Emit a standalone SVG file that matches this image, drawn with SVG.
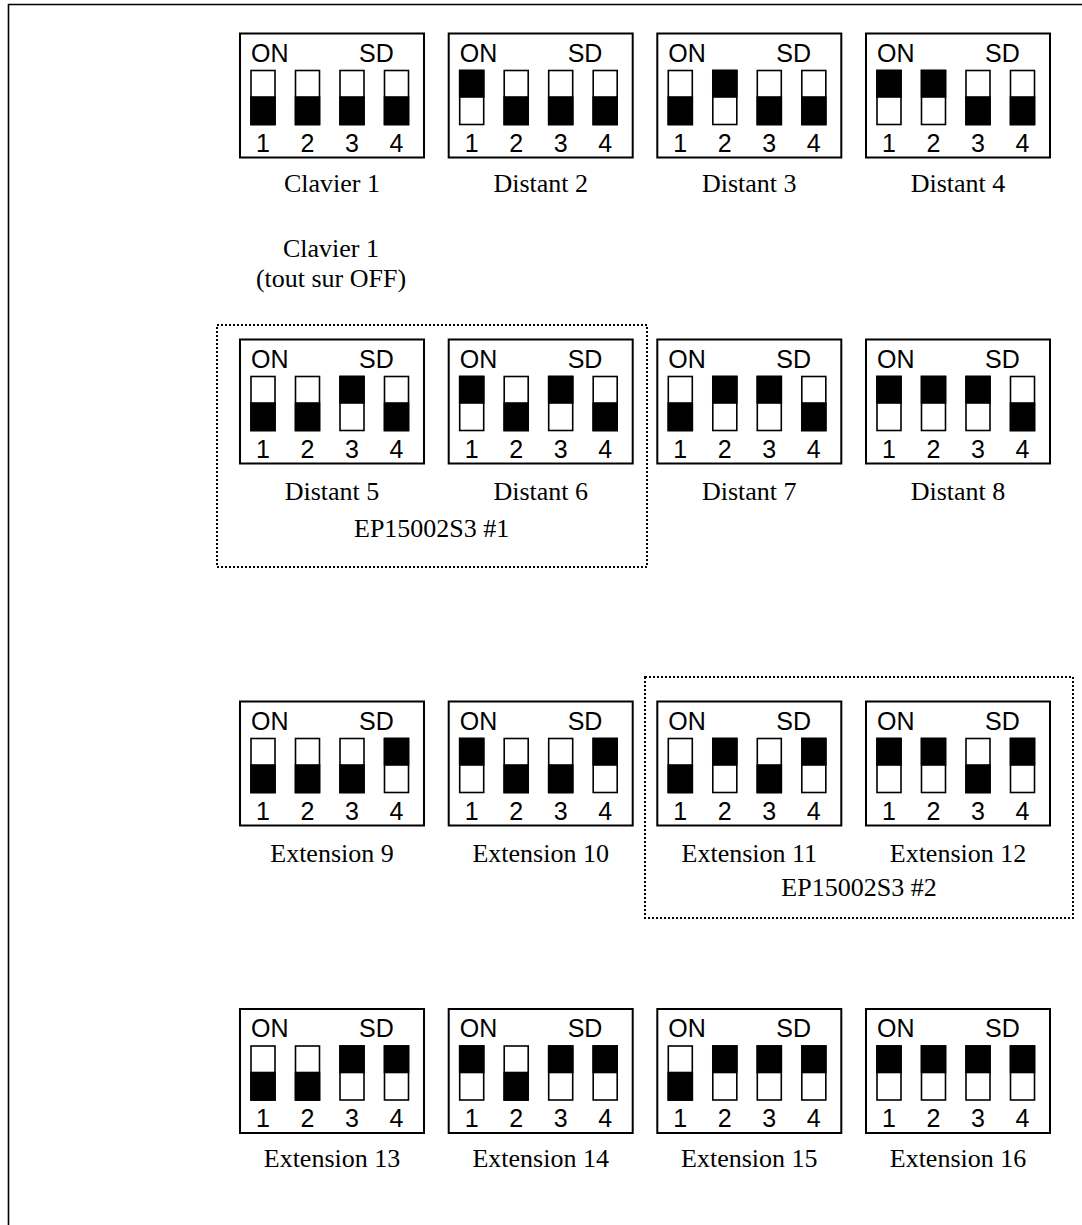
<svg xmlns="http://www.w3.org/2000/svg" width="1082" height="1225" viewBox="0 0 1082 1225">
<style>
.frame{fill:none;stroke:#000;stroke-width:1.6}
.box{fill:#fff;stroke:#000;stroke-width:2}
.sw{fill:#fff;stroke:#000;stroke-width:1.6}
.on{fill:#000;stroke:#000;stroke-width:1.6}
.hd{font-family:"Liberation Sans",Arial,sans-serif;font-size:25px;fill:#000}
.num{font-family:"Liberation Sans",Arial,sans-serif;font-size:25px;fill:#000;text-anchor:middle}
.lbl{font-family:"Liberation Serif","Times New Roman",serif;font-size:26px;fill:#000;text-anchor:middle}
.grp{fill:none;stroke:#000;stroke-width:2;stroke-dasharray:2 2}
</style>
<rect width="1082" height="1225" fill="#fff"/>
<path class="frame" d="M8.5,1225 V4.5 H1082"/>
<defs>
<g id="base">
<rect class="box" x="0" y="0" width="184" height="124"/>
<text class="hd" x="11" y="28">ON</text>
<text class="hd" x="119" y="28">SD</text>
<rect class="sw" x="11" y="37" width="24" height="54"/>
<rect class="sw" x="55.5" y="37" width="24" height="54"/>
<rect class="sw" x="100" y="37" width="24" height="54"/>
<rect class="sw" x="144.5" y="37" width="24" height="54"/>
<text class="num" x="23" y="118">1</text>
<text class="num" x="67.5" y="118">2</text>
<text class="num" x="112" y="118">3</text>
<text class="num" x="156.5" y="118">4</text>
</g>
<rect id="u1" class="on" x="11" y="37" width="24" height="26.5"/>
<rect id="d1" class="on" x="11" y="63.5" width="24" height="27.5"/>
<rect id="u2" class="on" x="55.5" y="37" width="24" height="26.5"/>
<rect id="d2" class="on" x="55.5" y="63.5" width="24" height="27.5"/>
<rect id="u3" class="on" x="100" y="37" width="24" height="26.5"/>
<rect id="d3" class="on" x="100" y="63.5" width="24" height="27.5"/>
<rect id="u4" class="on" x="144.5" y="37" width="24" height="26.5"/>
<rect id="d4" class="on" x="144.5" y="63.5" width="24" height="27.5"/>
</defs>

<g id="groups">
<rect class="grp" x="217" y="325" width="430" height="242"/>
<rect class="grp" x="645" y="677" width="428" height="241"/>
<text class="lbl" x="431.7" y="536.5">EP15002S3 #1</text>
<text class="lbl" x="859" y="896">EP15002S3 #2</text>
</g>

<g id="note">
<text class="lbl" x="331" y="256.5">Clavier 1</text>
<text class="lbl" x="331" y="287">(tout sur OFF)</text>
</g>

<!-- Row 1 -->
<g id="clavier1" transform="translate(240,33.5)"><use href="#base"/><use href="#d1"/><use href="#d2"/><use href="#d3"/><use href="#d4"/><text class="lbl" x="92" y="158">Clavier 1</text></g>
<g id="distant2" transform="translate(448.7,33.5)"><use href="#base"/><use href="#u1"/><use href="#d2"/><use href="#d3"/><use href="#d4"/><text class="lbl" x="92" y="158">Distant 2</text></g>
<g id="distant3" transform="translate(657.3,33.5)"><use href="#base"/><use href="#d1"/><use href="#u2"/><use href="#d3"/><use href="#d4"/><text class="lbl" x="92" y="158">Distant 3</text></g>
<g id="distant4" transform="translate(866,33.5)"><use href="#base"/><use href="#u1"/><use href="#u2"/><use href="#d3"/><use href="#d4"/><text class="lbl" x="92" y="158">Distant 4</text></g>

<!-- Row 2 -->
<g id="distant5" transform="translate(240,339.5)"><use href="#base"/><use href="#d1"/><use href="#d2"/><use href="#u3"/><use href="#d4"/><text class="lbl" x="92" y="160">Distant 5</text></g>
<g id="distant6" transform="translate(448.7,339.5)"><use href="#base"/><use href="#u1"/><use href="#d2"/><use href="#u3"/><use href="#d4"/><text class="lbl" x="92" y="160">Distant 6</text></g>
<g id="distant7" transform="translate(657.3,339.5)"><use href="#base"/><use href="#d1"/><use href="#u2"/><use href="#u3"/><use href="#d4"/><text class="lbl" x="92" y="160">Distant 7</text></g>
<g id="distant8" transform="translate(866,339.5)"><use href="#base"/><use href="#u1"/><use href="#u2"/><use href="#u3"/><use href="#d4"/><text class="lbl" x="92" y="160">Distant 8</text></g>

<!-- Row 3 -->
<g id="ext9" transform="translate(240,701.5)"><use href="#base"/><use href="#d1"/><use href="#d2"/><use href="#d3"/><use href="#u4"/><text class="lbl" x="92" y="160">Extension 9</text></g>
<g id="ext10" transform="translate(448.7,701.5)"><use href="#base"/><use href="#u1"/><use href="#d2"/><use href="#d3"/><use href="#u4"/><text class="lbl" x="92" y="160">Extension 10</text></g>
<g id="ext11" transform="translate(657.3,701.5)"><use href="#base"/><use href="#d1"/><use href="#u2"/><use href="#d3"/><use href="#u4"/><text class="lbl" x="92" y="160">Extension 11</text></g>
<g id="ext12" transform="translate(866,701.5)"><use href="#base"/><use href="#u1"/><use href="#u2"/><use href="#d3"/><use href="#u4"/><text class="lbl" x="92" y="160">Extension 12</text></g>

<!-- Row 4 -->
<g id="ext13" transform="translate(240,1009)"><use href="#base"/><use href="#d1"/><use href="#d2"/><use href="#u3"/><use href="#u4"/><text class="lbl" x="92" y="158">Extension 13</text></g>
<g id="ext14" transform="translate(448.7,1009)"><use href="#base"/><use href="#u1"/><use href="#d2"/><use href="#u3"/><use href="#u4"/><text class="lbl" x="92" y="158">Extension 14</text></g>
<g id="ext15" transform="translate(657.3,1009)"><use href="#base"/><use href="#d1"/><use href="#u2"/><use href="#u3"/><use href="#u4"/><text class="lbl" x="92" y="158">Extension 15</text></g>
<g id="ext16" transform="translate(866,1009)"><use href="#base"/><use href="#u1"/><use href="#u2"/><use href="#u3"/><use href="#u4"/><text class="lbl" x="92" y="158">Extension 16</text></g>

<g id="connectors"/>
</svg>
